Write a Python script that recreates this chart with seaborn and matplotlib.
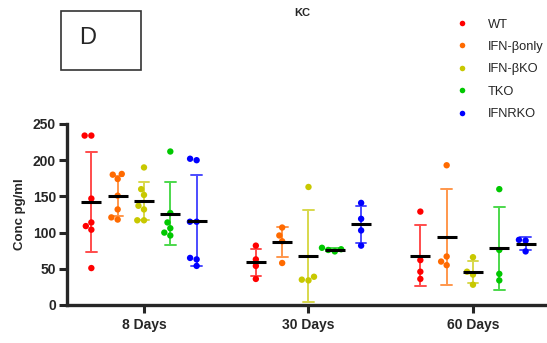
import pandas as pd
import matplotlib.pyplot as plt
import seaborn as sns
from matplotlib.patches import Rectangle

# Days and groups
days = ['8 Days', '30 Days', '60 Days']
groups = ['WT', 'IFN-βonly', 'IFN-βKO', 'TKO', 'IFNRKO']
colors = ['#ff0000', '#ff6a00', '#c8c800', '#00c800', '#0000ff']

# KC concentrations (pg/ml) per group, per day
wt = [[234, 234, 147, 114, 109, 104, 51],
      [82, 63, 54, 36],
      [129, 62, 46, 36]]
ifnb_only = [[181, 180, 174, 151, 132, 121, 118],
             [107, 96, 88, 58],
             [193, 67, 60, 55]]
ifnb_ko = [[190, 160, 152, 137, 132, 117, 117],
           [163, 39, 35, 34],
           [66, 46, 42, 28]]
tko = [[212, 127, 114, 106, 100, 96],
       [79, 77, 76, 74],
       [160, 76, 43, 34]]
ifnrko = [[202, 200, 115, 115, 65, 63, 54],
          [141, 119, 103, 82],
          [90, 89, 74]]

rows = []
for g, series in zip(groups, [wt, ifnb_only, ifnb_ko, tko, ifnrko]):
    for d, vals in zip(days, series):
        for v in vals:
            rows.append({'day': d, 'group': g, 'conc': v})
df = pd.DataFrame(rows)

sns.set_style("ticks")
plt.rcParams['font.family'] = ['Liberation Sans', 'DejaVu Sans']

fig = plt.figure(figsize=(5.47, 3.43), dpi=100)
ax = fig.add_axes([0.1225, 0.1108, 0.8775, 0.5277])

# mean +/- SD error bars
sns.pointplot(data=df, x='day', y='conc', hue='group', order=days, hue_order=groups,
              palette=colors, errorbar='sd', dodge=0.64, linestyle='none',
              markersize=0, capsize=0.065, err_kws={'linewidth': 1.4, 'alpha': 0.7},
              legend=False, ax=ax, zorder=2)

# individual points
sns.swarmplot(data=df, x='day', y='conc', hue='group', order=days, hue_order=groups,
              palette=colors, dodge=True, size=4.6, ax=ax, zorder=3)

# mean lines
sns.pointplot(data=df, x='day', y='conc', hue='group', order=days, hue_order=groups,
              palette=['black'] * 5, errorbar=None, dodge=0.64, linestyle='none',
              marker='_', markersize=15, markeredgewidth=2.2, legend=False, ax=ax, zorder=4)

handles, labels = ax.get_legend_handles_labels()
ax.get_legend().remove()
for h in handles:
    h.set_markersize(4)
fig.legend(handles, labels, loc='upper left', bbox_to_anchor=(0.811, 0.98),
           frameon=False, fontsize=9.3, handlelength=1, handletextpad=1.5,
           labelspacing=0.8)

ax.set_ylim(0, 250)
ax.set_yticks([0, 50, 100, 150, 200, 250])
ax.set_xlim(-0.468, 2.45)
ax.set_xlabel('')
ax.set_ylabel('Conc pg/ml', fontsize=9.5, fontweight='bold', labelpad=5)
sns.despine(ax=ax)
for s in ['left', 'bottom']:
    ax.spines[s].set_linewidth(2.4)
ax.tick_params(axis='both', length=6, width=2.2, labelsize=10)
ax.tick_params(axis='y', pad=2)
for lbl in ax.get_xticklabels() + ax.get_yticklabels():
    lbl.set_fontweight('bold')

fig.text(0.552, 0.963, 'KC', ha='center', va='center', fontsize=8, fontweight='bold')

# panel letter box
fig.patches.append(Rectangle((0.1115, 0.796), 0.146, 0.172, transform=fig.transFigure,
                             fill=False, edgecolor='#333333', linewidth=1.2))
fig.text(0.161, 0.889, 'D', ha='center', va='center', fontsize=17)

plt.savefig('out.png', dpi=100)
